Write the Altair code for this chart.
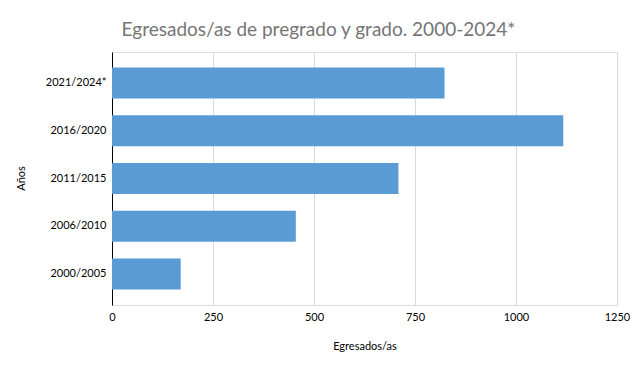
import altair as alt
import pandas as pd

periods = ["2021/2024*", "2016/2020", "2011/2015", "2006/2010", "2000/2005"]
graduates = [823, 1117, 709, 455, 170]
x_ticks = [0, 250, 500, 750, 1000, 1250]

df = pd.DataFrame({"Años": periods, "Egresados/as": graduates})

FONT = "Lato"

chart = alt.Chart(df).mark_bar(color="#5B9BD5").encode(
    x=alt.X(
        "Egresados/as:Q",
        scale=alt.Scale(domain=[0, 1250], nice=False),
        axis=alt.Axis(
            values=x_ticks,
            format="d",
            domain=False,
            ticks=False,
            grid=True,
            gridColor="#D9D9D9",
            gridWidth=1,
            labelFlush=False,
            labelFont=FONT,
            labelFontSize=11,
            labelColor="#000000",
            labelPadding=6,
            title="Egresados/as",
            titleFont=FONT,
            titleFontSize=11,
            titleFontWeight="normal",
            titleColor="#000000",
            titlePadding=18,
        ),
    ),
    y=alt.Y(
        "Años:N",
        sort=periods,
        scale=alt.Scale(paddingInner=0.35, paddingOuter=0.325),
        axis=alt.Axis(
            domain=True,
            domainColor="#000000",
            domainWidth=1,
            ticks=False,
            grid=False,
            labelFont=FONT,
            labelFontSize=11,
            labelColor="#000000",
            labelPadding=6,
            title="Años",
            titleFont=FONT,
            titleFontSize=11,
            titleFontWeight="normal",
            titleColor="#000000",
            titleX=-86,
            titleY=126,
            titleAngle=-90,
        ),
    ),
).properties(
    width=505,
    height=253,
    padding={"left": 104, "top": 44, "right": 13, "bottom": 59},
    autosize=alt.AutoSizeParams(type="none"),
    title=alt.TitleParams(
        "Egresados/as de pregrado y grado. 2000-2024*",
        font=FONT,
        fontSize=19,
        fontWeight="normal",
        color="#757575",
        anchor="middle",
        dx=-46,
        offset=12,
    ),
).configure_view(stroke=None).configure(background="white")

chart.save("out.html", embed_options={"renderer": "svg", "actions": False})
